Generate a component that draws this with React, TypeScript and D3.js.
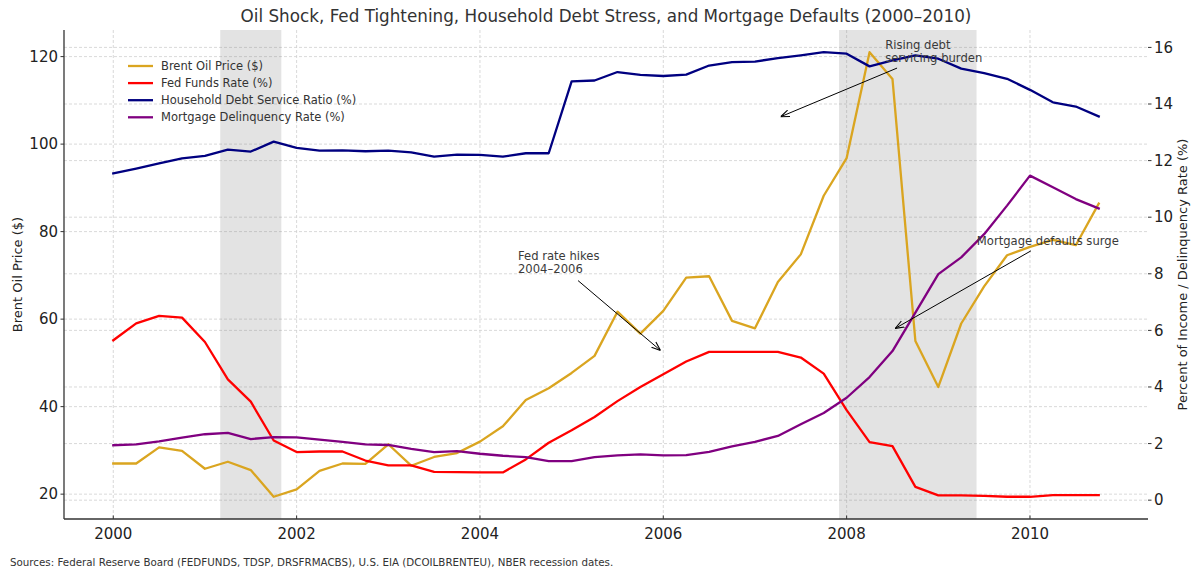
import * as d3 from 'd3';

// quarterly observations, 2000Q1 .. 2010Q4
const quarters = [
  2000, 2000.25, 2000.5, 2000.75, 2001, 2001.25, 2001.5, 2001.75,
  2002, 2002.25, 2002.5, 2002.75, 2003, 2003.25, 2003.5, 2003.75,
  2004, 2004.25, 2004.5, 2004.75, 2005, 2005.25, 2005.5, 2005.75,
  2006, 2006.25, 2006.5, 2006.75, 2007, 2007.25, 2007.5, 2007.75,
  2008, 2008.25, 2008.5, 2008.75, 2009, 2009.25, 2009.5, 2009.75,
  2010, 2010.25, 2010.5, 2010.75,
];

const brentOil = [
  27.0, 27.0, 30.7, 29.9, 25.8, 27.4, 25.5, 19.4,
  21.1, 25.3, 27.0, 26.9, 31.4, 26.5, 28.5, 29.4,
  32.0, 35.5, 41.5, 44.2, 47.7, 51.6, 61.7, 56.7,
  61.9, 69.5, 69.8, 59.6, 57.9, 68.5, 74.8, 88.2,
  96.8, 121.0, 114.9, 55.0, 44.5, 59.0, 67.5, 74.6,
  76.5, 78.1, 76.9, 86.4,
];

const fedFunds = [
  5.65, 6.25, 6.51, 6.45, 5.59, 4.27, 3.48, 2.11,
  1.7, 1.72, 1.72, 1.4, 1.23, 1.23, 1.0, 0.99,
  0.98, 0.98, 1.44, 2.03, 2.47, 2.94, 3.5, 4.0,
  4.45, 4.9, 5.24, 5.24, 5.24, 5.24, 5.04, 4.47,
  3.18, 2.05, 1.91, 0.47, 0.17, 0.17, 0.15, 0.12,
  0.12, 0.18, 0.18, 0.18,
];

const debtService = [
  11.55, 11.72, 11.9, 12.08, 12.17, 12.39, 12.32, 12.67,
  12.45, 12.35, 12.36, 12.33, 12.35, 12.29, 12.14, 12.21,
  12.2, 12.14, 12.26, 12.26, 14.8, 14.83, 15.13, 15.03,
  14.99, 15.04, 15.36, 15.48, 15.5, 15.62, 15.72, 15.83,
  15.78, 15.33, 15.54, 15.72, 15.6, 15.25, 15.09, 14.89,
  14.5, 14.06, 13.91, 13.56,
];

const delinquency = [
  1.94, 1.97, 2.08, 2.21, 2.33, 2.38, 2.16, 2.23,
  2.22, 2.14, 2.06, 1.97, 1.95, 1.81, 1.7, 1.73,
  1.64, 1.57, 1.52, 1.38, 1.38, 1.52, 1.58, 1.62,
  1.58, 1.59, 1.71, 1.9, 2.06, 2.27, 2.68, 3.08,
  3.62, 4.35, 5.27, 6.63, 7.99, 8.58, 9.4, 10.41,
  11.47, 11.06, 10.64, 10.31,
];

// NBER recessions (Mar 2001 - Nov 2001, Dec 2007 - Jun 2009)
const recessions = [
  [2001.167, 2001.833],
  [2007.917, 2009.417],
];

const xTicks = [2000, 2002, 2004, 2006, 2008, 2010];
const leftTicks = [20, 40, 60, 80, 100, 120];
const rightTicks = [0, 2, 4, 6, 8, 10, 12, 14, 16];

const annotations = [
  { lines: ['Rising debt', 'servicing burden'], text: [2008.42, 15.94], tail: [2008.55, 15.27], head: [2007.28, 13.55] },
  { lines: ['Fed rate hikes', '2004–2006'], text: [2004.415, 8.47], tail: [2005.07, 7.76], head: [2005.97, 5.29] },
  { lines: ['Mortgage defaults surge'], text: [2009.42, 9.0], tail: [2010.01, 8.81], head: [2008.53, 6.07] },
];

const W = 1200;
const H = 575;
const FONT = 'DejaVu Sans, Verdana, sans-serif';
const margin = { top: 30, right: 52, bottom: 56, left: 64 };

// matplotlib-style 5% autoscale margins
const padded = (vals: number[]) => {
  const [a, b] = d3.extent(vals) as [number, number];
  const m = (b - a) * 0.05;
  return [a - m, b + m];
};

export default function App() {
  const x0 = margin.left;
  const x1 = W - margin.right;
  const y0 = margin.top;
  const y1 = H - margin.bottom;

  const x = d3.scaleLinear().domain(padded(quarters)).range([x0, x1]);
  const yL = d3.scaleLinear().domain(padded(brentOil)).range([y1, y0]);
  const yR = d3
    .scaleLinear()
    .domain(padded([...fedFunds, ...debtService, ...delinquency]))
    .range([y1, y0]);

  const series = [
    { name: 'Brent Oil Price ($)', values: brentOil, color: '#DAA520', scale: yL },
    { name: 'Fed Funds Rate (%)', values: fedFunds, color: '#FF0000', scale: yR },
    { name: 'Household Debt Service Ratio (%)', values: debtService, color: '#000080', scale: yR },
    { name: 'Mortgage Delinquency Rate (%)', values: delinquency, color: '#800080', scale: yR },
  ];

  const gridStyle = { stroke: '#cfcfcf', strokeWidth: 0.8, strokeDasharray: '3,2' };

  return (
    <svg
      width={W}
      height={H}
      style={{ position: 'absolute', left: 0, top: 0, background: '#fff' }}
      fontFamily={FONT}
    >
      <defs>
        <marker id="arr" viewBox="0 0 10 10" refX={10} refY={5} markerWidth={9} markerHeight={9}
          markerUnits="userSpaceOnUse" orient="auto">
          <path d="M0,1.2 L10,5 L0,8.8" fill="none" stroke="#000" strokeWidth={1.2} />
        </marker>
      </defs>

      {/* grid */}
      {xTicks.map((t) => (
        <line key={'gx' + t} x1={x(t)} x2={x(t)} y1={y0} y2={y1} {...gridStyle} />
      ))}
      {leftTicks.map((t) => (
        <line key={'gl' + t} x1={x0} x2={x1} y1={yL(t)} y2={yL(t)} {...gridStyle} />
      ))}
      {rightTicks.map((t) => (
        <line key={'gr' + t} x1={x0} x2={x1} y1={yR(t)} y2={yR(t)} {...gridStyle} />
      ))}

      {/* recession shading */}
      {recessions.map(([a, b]) => (
        <rect key={a} x={x(a)} y={y0} width={x(b) - x(a)} height={y1 - y0} fill="#808080" opacity={0.22} />
      ))}

      {/* lines */}
      {series.map((s) => {
        const line = d3
          .line<number>()
          .x((_, i) => x(quarters[i]))
          .y((d) => s.scale(d));
        return (
          <path key={s.name} d={line(s.values) || ''} fill="none" stroke={s.color}
            strokeWidth={2.3} strokeLinejoin="round" strokeLinecap="square" />
        );
      })}

      {/* spines + ticks */}
      <line x1={x0} x2={x0} y1={y0} y2={y1} stroke="#333" strokeWidth={1.3} />
      <line x1={x0} x2={x1} y1={y1} y2={y1} stroke="#333" strokeWidth={1.3} />
      {xTicks.map((t) => (
        <g key={'xt' + t}>
          <line x1={x(t)} x2={x(t)} y1={y1} y2={y1 - 3.5} stroke="#333" strokeWidth={1} />
          <text x={x(t)} y={y1 + 20} textAnchor="middle" fontSize={15} fill="#222">{t}</text>
        </g>
      ))}
      {leftTicks.map((t) => (
        <g key={'lt' + t}>
          <line x1={x0 - 3.5} x2={x0} y1={yL(t)} y2={yL(t)} stroke="#333" strokeWidth={1} />
          <text x={x0 - 6} y={yL(t) + 5.3} textAnchor="end" fontSize={15} fill="#222">{t}</text>
        </g>
      ))}
      {rightTicks.map((t) => (
        <g key={'rt' + t}>
          <line x1={x1} x2={x1 + 3.5} y1={yR(t)} y2={yR(t)} stroke="#333" strokeWidth={1} />
          <text x={x1 + 6} y={yR(t) + 5.3} textAnchor="start" fontSize={15} fill="#222">{t}</text>
        </g>
      ))}

      {/* axis labels */}
      <text transform={`translate(22,${(y0 + y1) / 2}) rotate(-90)`} textAnchor="middle" fontSize={13} fill="#222">
        Brent Oil Price ($)
      </text>
      <text transform={`translate(1187,${(y0 + y1) / 2}) rotate(-90)`} textAnchor="middle" fontSize={13} fill="#222">
        Percent of Income / Delinquency Rate (%)
      </text>

      {/* annotations */}
      {annotations.map((a) => (
        <g key={a.lines[0]}>
          <line x1={x(a.tail[0])} y1={yR(a.tail[1])} x2={x(a.head[0])} y2={yR(a.head[1])}
            stroke="#000" strokeWidth={1} markerEnd="url(#arr)" />
          <text x={x(a.text[0])} y={yR(a.text[1])} fontSize={11.6} fill="#3a3a3a">
            {a.lines.map((l, i) => (
              <tspan key={l} x={x(a.text[0])} dy={i === 0 ? 0 : 12.8}>{l}</tspan>
            ))}
          </text>
        </g>
      ))}

      {/* legend */}
      {series.map((s, i) => (
        <g key={'lg' + s.name} transform={`translate(128,${66 + i * 17.1})`}>
          <line x1={0} x2={25} y1={0} y2={0} stroke={s.color} strokeWidth={2.3} />
          <text x={33} y={4} fontSize={11.5} fill="#333">{s.name}</text>
        </g>
      ))}

      {/* title */}
      <text x={(x0 + x1) / 2} y={22} textAnchor="middle" fontSize={16.8} fill="#333">
        Oil Shock, Fed Tightening, Household Debt Stress, and Mortgage Defaults (2000–2010)
      </text>

      <text x={10} y={566} fontSize={10.3} fill="#333">
        Sources: Federal Reserve Board (FEDFUNDS, TDSP, DRSFRMACBS), U.S. EIA (DCOILBRENTEU), NBER recession dates.
      </text>
    </svg>
  );
}
